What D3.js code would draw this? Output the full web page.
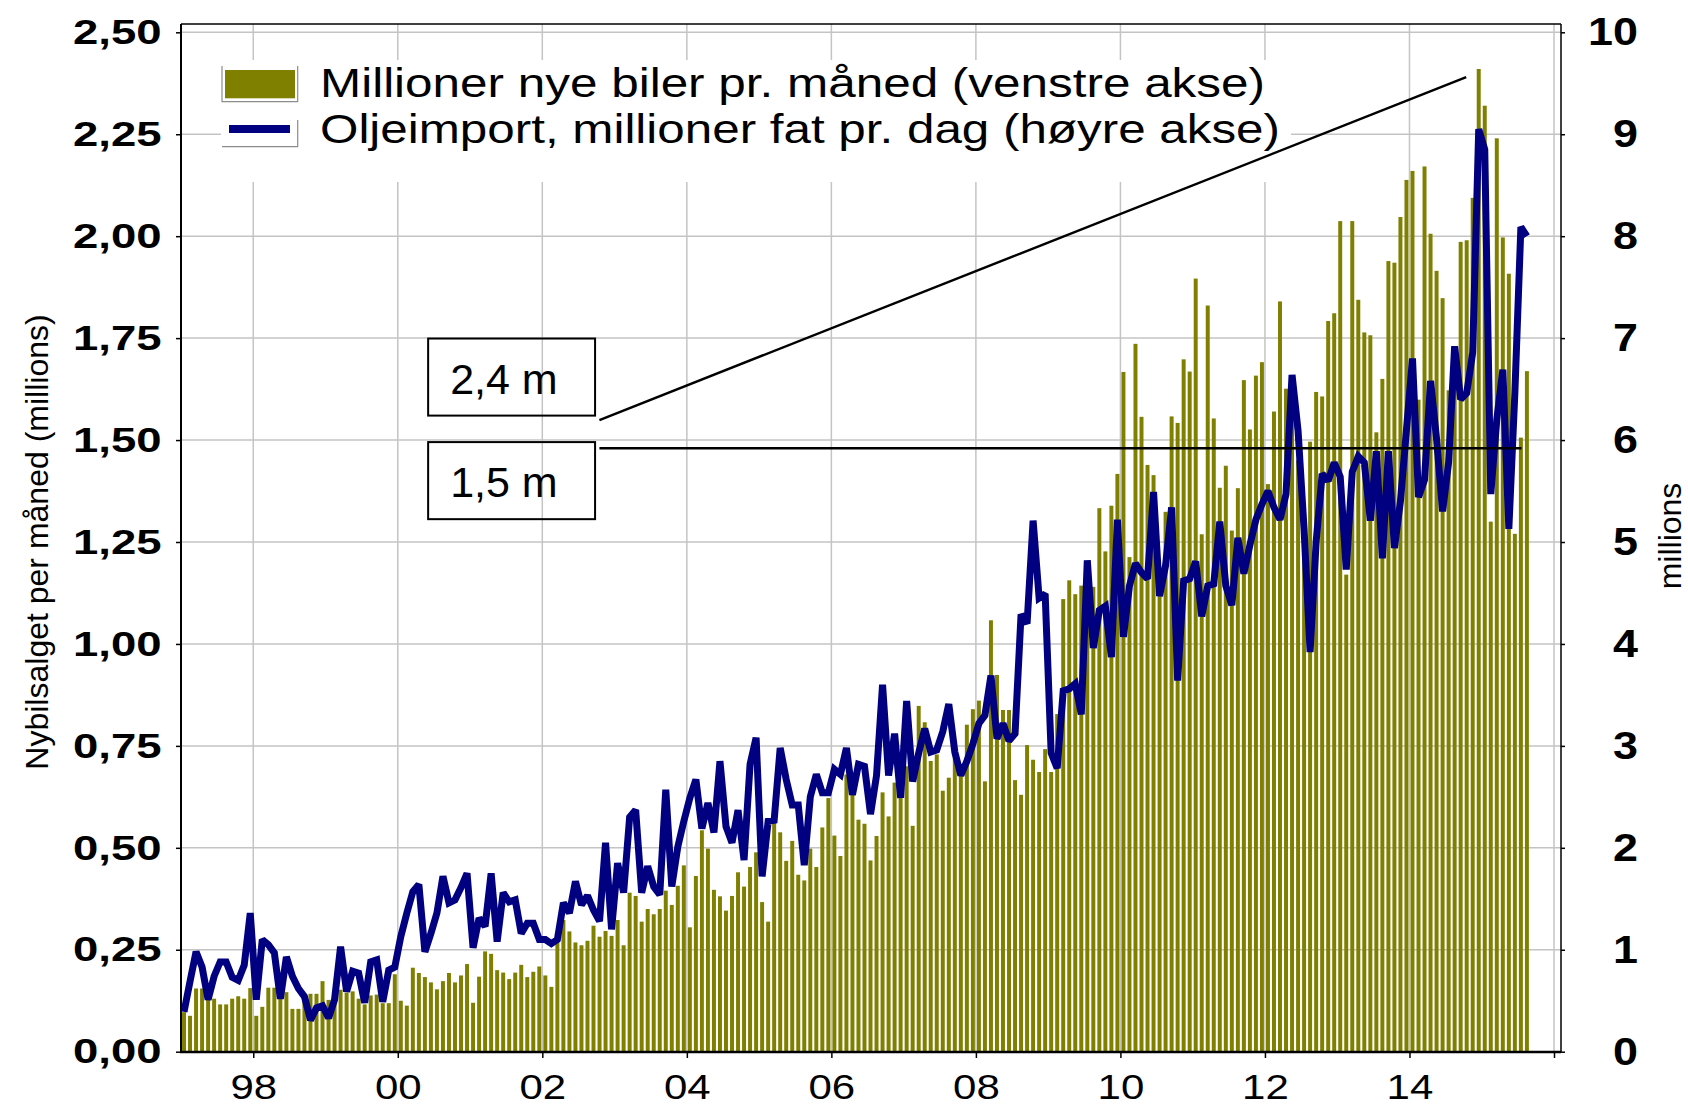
<!DOCTYPE html>
<html>
<head>
<meta charset="utf-8">
<script src="https://cdn.jsdelivr.net/npm/d3@7"></script>
<style>
  html, body { margin: 0; padding: 0; background: #fff; }
  svg { display: block; font-family: "Liberation Sans", Arial, sans-serif; }
</style>
</head>
<body>
<div id="chart"></div>
<script>
// first bar / point = January 1997, one value per month
const startYear = 1997;

// new cars sold per month, millions (left axis)
const carSales = [
  0.097, 0.088, 0.155, 0.155, 0.130, 0.130, 0.116, 0.116, 0.130, 0.136, 0.130, 0.156,
  0.088, 0.110, 0.157, 0.157, 0.146, 0.146, 0.105, 0.105, 0.140, 0.142, 0.142, 0.173,
  0.127, 0.130, 0.152, 0.145, 0.148, 0.130, 0.116, 0.138, 0.140, 0.119, 0.119, 0.190,
  0.125, 0.113, 0.206, 0.193, 0.183, 0.170, 0.153, 0.173, 0.193, 0.170, 0.187, 0.215,
  0.120, 0.184, 0.246, 0.240, 0.200, 0.194, 0.178, 0.194, 0.213, 0.183, 0.196, 0.209,
  0.187, 0.159, 0.290, 0.323, 0.295, 0.268, 0.261, 0.272, 0.309, 0.282, 0.296, 0.284,
  0.323, 0.261, 0.390, 0.382, 0.319, 0.350, 0.337, 0.350, 0.395, 0.360, 0.407, 0.457,
  0.305, 0.431, 0.543, 0.498, 0.397, 0.381, 0.346, 0.382, 0.440, 0.405, 0.453, 0.489,
  0.367, 0.319, 0.562, 0.538, 0.468, 0.517, 0.434, 0.420, 0.498, 0.453, 0.550, 0.622,
  0.530, 0.480, 0.680, 0.630, 0.569, 0.559, 0.469, 0.529, 0.636, 0.577, 0.660, 0.622,
  0.700, 0.554, 0.848, 0.808, 0.713, 0.729, 0.640, 0.672, 0.750, 0.704, 0.802, 0.840,
  0.861, 0.663, 1.058, 0.924, 0.838, 0.838, 0.666, 0.630, 0.752, 0.716, 0.686, 0.742,
  0.686, 0.828, 1.110, 1.156, 1.122, 1.143, 1.170, 1.140, 1.333, 1.227, 1.339, 1.417,
  1.667, 1.213, 1.736, 1.557, 1.439, 1.414, 1.170, 1.324, 1.558, 1.542, 1.698, 1.668,
  1.896, 1.269, 1.830, 1.553, 1.383, 1.437, 1.278, 1.382, 1.647, 1.526, 1.658, 1.691,
  1.392, 1.570, 1.840, 1.626, 1.550, 1.450, 1.300, 1.496, 1.618, 1.607, 1.792, 1.811,
  2.037, 1.170, 2.037, 1.844, 1.764, 1.757, 1.519, 1.650, 1.939, 1.935, 2.047, 2.138,
  2.160, 1.599, 2.171, 2.006, 1.915, 1.848, 1.622, 1.718, 1.986, 1.990, 2.094, 2.410,
  2.320, 1.300, 2.240, 1.997, 1.908, 1.270, 1.506, 1.669
];

// oil imports, million barrels per day (right axis)
const oilImports = [
  0.39, 0.69, 0.98, 0.83, 0.51, 0.74, 0.88, 0.88, 0.73, 0.70, 0.85, 1.36,
  0.51, 1.10, 1.05, 0.97, 0.52, 0.93, 0.74, 0.62, 0.54, 0.31, 0.43, 0.45,
  0.33, 0.51, 1.03, 0.59, 0.79, 0.77, 0.48, 0.88, 0.90, 0.49, 0.80, 0.83,
  1.13, 1.36, 1.57, 1.64, 0.98, 1.16, 1.36, 1.72, 1.46, 1.49, 1.61, 1.75,
  1.02, 1.31, 1.23, 1.75, 1.08, 1.56, 1.47, 1.49, 1.16, 1.26, 1.26, 1.10,
  1.10, 1.06, 1.10, 1.46, 1.36, 1.67, 1.44, 1.53, 1.39, 1.28, 2.05, 1.20,
  1.85, 1.56, 2.30, 2.37, 1.56, 1.82, 1.62, 1.54, 2.57, 1.62, 2.01, 2.26,
  2.49, 2.67, 2.19, 2.44, 2.15, 2.85, 2.21, 2.05, 2.37, 1.88, 2.82, 3.08,
  1.72, 2.26, 2.27, 2.98, 2.67, 2.42, 2.42, 1.83, 2.50, 2.72, 2.54, 2.54,
  2.77, 2.72, 2.98, 2.52, 2.82, 2.80, 2.33, 2.71, 3.60, 2.71, 3.12, 2.49,
  3.44, 2.65, 2.93, 3.17, 2.94, 2.96, 3.14, 3.41, 2.94, 2.71, 2.85, 3.02,
  3.22, 3.30, 3.69, 3.07, 3.22, 3.05, 3.12, 4.29, 4.20, 5.21, 4.45, 4.49,
  2.93, 2.78, 3.54, 3.56, 3.61, 3.31, 4.82, 3.96, 4.33, 4.37, 3.87, 5.22,
  4.07, 4.57, 4.79, 4.70, 4.64, 5.49, 4.47, 4.77, 5.34, 3.64, 4.62, 4.64,
  4.81, 4.27, 4.57, 4.59, 5.20, 4.57, 4.38, 5.04, 4.69, 4.97, 5.22, 5.37,
  5.50, 5.34, 5.22, 5.47, 6.64, 6.09, 5.12, 3.92, 5.00, 5.67, 5.60, 5.78,
  5.64, 4.73, 5.69, 5.84, 5.78, 5.21, 5.89, 4.84, 5.89, 4.94, 5.40, 6.10,
  6.80, 5.44, 5.61, 6.58, 6.01, 5.30, 5.78, 6.92, 6.40, 6.46, 6.86, 9.05,
  8.85, 5.47, 6.20, 6.69, 5.13, 6.46, 8.09, 8.00
];

const leftTicks = [0, 0.25, 0.5, 0.75, 1, 1.25, 1.5, 1.75, 2, 2.25, 2.5];
const rightTicks = [0, 1, 2, 3, 4, 5, 6, 7, 8, 9, 10];
const yearTicks = [1998, 2000, 2002, 2004, 2006, 2008, 2010, 2012, 2014, 2016];
const yearLabels = ['98', '00', '02', '04', '06', '08', '10', '12', '14', ''];

const legendLabels = [
  'Millioner nye biler pr. måned (venstre akse)',
  'Oljeimport, millioner fat pr. dag (høyre akse)'
];
const leftTitle = 'Nybilsalget per måned (millions)';
const rightTitle = 'millions';

// annotations: peak of 2,4 m and level of 1,5 m (left-axis units)
const annotationLabels = ['2,4 m', '1,5 m'];
const peakLevel = 2.39;
const flatLevel = 1.48;

const width = 1688;
const height = 1106;
const plot = { left: 181, right: 1561, top: 24, bottom: 1052 };

const svg = d3.select('#chart').append('svg')
  .attr('width', width)
  .attr('height', height)
  .attr('viewBox', `0 0 ${width} ${height}`);

svg.append('rect').attr('width', width).attr('height', height).attr('fill', '#fff');

const x = d3.scaleLinear().domain([startYear, 2016]).range([plot.left, 1554]);
const yLeft = d3.scaleLinear().domain([0, 2.5]).range([1051.7, 32.3]);
const yRight = d3.scaleLinear().domain([0, 10]).range([1051.7, 32.3]);

const monthDate = (i) => startYear + (i + 0.5) / 12;
const pitch = x(startYear + 1 / 12) - x(startYear);
const barWidth = pitch * 0.66;

// stretch glyphs horizontally, the source uses a wider face than Arial
function stretch(selection, k) {
  selection.each(function () {
    const w = this.getComputedTextLength();
    d3.select(this).attr('textLength', w * k).attr('lengthAdjust', 'spacingAndGlyphs');
  });
}

// grid
const grid = svg.append('g').attr('stroke', '#c4c4c4').attr('stroke-width', 1.5);
grid.selectAll('.h').data(leftTicks.slice(1)).join('line')
  .attr('x1', plot.left).attr('x2', plot.right)
  .attr('y1', (d) => yLeft(d)).attr('y2', (d) => yLeft(d));
grid.selectAll('.v').data(yearTicks).join('line')
  .attr('x1', (d) => x(d)).attr('x2', (d) => x(d))
  .attr('y1', plot.top).attr('y2', plot.bottom);

// bars
svg.append('g').attr('fill', '#808000')
  .selectAll('rect').data(carSales).join('rect')
  .attr('x', (d, i) => x(monthDate(i)) - barWidth / 2)
  .attr('width', barWidth)
  .attr('y', (d) => yLeft(d))
  .attr('height', (d) => yLeft(0) - yLeft(d));

// oil line
const line = d3.line()
  .x((d, i) => x(monthDate(i)))
  .y((d) => yRight(d));

svg.append('path')
  .datum(oilImports)
  .attr('fill', 'none')
  .attr('stroke', '#000080')
  .attr('stroke-width', 7)
  .attr('stroke-linejoin', 'miter')
  .attr('stroke-miterlimit', 2)
  .attr('d', line);

// frame
const frame = svg.append('g').attr('stroke', '#000');
frame.append('line').attr('x1', plot.left).attr('x2', plot.right).attr('y1', plot.top).attr('y2', plot.top).attr('stroke-width', 1.5);
frame.append('line').attr('x1', plot.right).attr('x2', plot.right).attr('y1', plot.top).attr('y2', plot.bottom).attr('stroke-width', 1.5);
frame.append('line').attr('x1', plot.left).attr('x2', plot.left).attr('y1', plot.top).attr('y2', plot.bottom + 1).attr('stroke-width', 2);
frame.append('line').attr('x1', plot.left - 1).attr('x2', plot.right).attr('y1', plot.bottom).attr('y2', plot.bottom).attr('stroke-width', 2.5);

// axes
const axisLeft = svg.append('g')
  .attr('transform', `translate(${plot.left},0)`)
  .call(d3.axisLeft(yLeft).tickValues(leftTicks).tickSize(5).tickPadding(14.5)
    .tickFormat((d) => d.toFixed(2).replace('.', ',')));
axisLeft.select('.domain').remove();
axisLeft.selectAll('line').attr('stroke', '#000').attr('stroke-width', 1.5);
axisLeft.selectAll('text')
  .attr('font-family', '"Liberation Sans", Arial, sans-serif')
  .attr('font-size', 35).attr('font-weight', 'bold').attr('fill', '#000')
  .call(stretch, 1.3);

const axisRight = svg.append('g')
  .attr('transform', `translate(${plot.right},0)`)
  .call(d3.axisRight(yRight).tickValues(rightTicks).tickSize(4).tickPadding(0)
    .tickFormat((d) => String(d)));
axisRight.select('.domain').remove();
axisRight.selectAll('line').attr('stroke', '#000').attr('stroke-width', 1.5);
axisRight.selectAll('text')
  .attr('x', 77).attr('text-anchor', 'end')
  .attr('font-family', '"Liberation Sans", Arial, sans-serif')
  .attr('font-size', 39).attr('font-weight', 'bold').attr('fill', '#000')
  .call(stretch, 1.15);

const axisBottom = svg.append('g')
  .attr('transform', `translate(0,${plot.bottom})`)
  .call(d3.axisBottom(x).tickValues(yearTicks).tickSize(6).tickPadding(16)
    .tickFormat((d, i) => yearLabels[i]));
axisBottom.select('.domain').remove();
axisBottom.selectAll('line').attr('stroke', '#000').attr('stroke-width', 1.5);
axisBottom.selectAll('text')
  .attr('font-family', '"Liberation Sans", Arial, sans-serif')
  .attr('font-size', 35).attr('fill', '#000')
  .call(stretch, 1.2);

// axis titles
svg.append('text')
  .attr('transform', 'translate(48,542) rotate(-90)')
  .attr('text-anchor', 'middle')
  .attr('font-size', 32)
  .text(leftTitle);

svg.append('text')
  .attr('transform', 'translate(1681,536) rotate(-90)')
  .attr('text-anchor', 'middle')
  .attr('font-size', 32)
  .text(rightTitle);

// legend
const legend = svg.append('g');
legend.append('rect').attr('x', 221).attr('y', 60).attr('width', 1070).attr('height', 122).attr('fill', '#fff');

const swatchGray = '#8c8c8c';
legend.append('rect').attr('x', 225).attr('y', 70).attr('width', 70).attr('height', 28.3).attr('fill', '#808000');
legend.append('path').attr('d', 'M222,66V101.7H297.7V66').attr('fill', 'none').attr('stroke', swatchGray).attr('stroke-width', 1.2);
legend.append('path').attr('d', 'M297.7,120V146.7H222').attr('fill', 'none').attr('stroke', swatchGray).attr('stroke-width', 1.2);
legend.append('line').attr('x1', 229).attr('x2', 290).attr('y1', 129).attr('y2', 129)
  .attr('stroke', '#000080').attr('stroke-width', 8);

const legendWidths = [945, 960];
legend.selectAll('text.item').data(legendLabels).join('text')
  .attr('class', 'item')
  .attr('x', 320)
  .attr('y', (d, i) => 97.3 + i * 46)
  .attr('font-size', 40.5)
  .attr('fill', '#000')
  .attr('textLength', (d, i) => legendWidths[i])
  .attr('lengthAdjust', 'spacingAndGlyphs')
  .text((d) => d);

// annotations (drawn last, the pointer line crosses the legend)
const boxLeft = x(2000.42);
const boxRight = x(2002.73);
const anchorX = x(2002.79);
const boxes = [
  { top: 1.749, bottom: 1.560 },
  { top: 1.495, bottom: 1.306 }
];

const ann = svg.append('g');
ann.selectAll('rect').data(boxes).join('rect')
  .attr('x', boxLeft)
  .attr('width', boxRight - boxLeft)
  .attr('y', (d) => yLeft(d.top))
  .attr('height', (d) => yLeft(d.bottom) - yLeft(d.top))
  .attr('fill', 'none')
  .attr('stroke', '#000')
  .attr('stroke-width', 2);

ann.selectAll('text').data(annotationLabels).join('text')
  .attr('x', boxLeft + 22)
  .attr('y', (d, i) => yLeft(boxes[i].bottom) - 22)
  .attr('font-size', 43)
  .attr('fill', '#000')
  .text((d) => d);

ann.append('line')
  .attr('x1', anchorX).attr('y1', yLeft(1.549))
  .attr('x2', x(2014.785)).attr('y2', yLeft(peakLevel))
  .attr('stroke', '#000').attr('stroke-width', 2.5);

ann.append('line')
  .attr('x1', anchorX).attr('y1', yLeft(flatLevel))
  .attr('x2', x(2015.55)).attr('y2', yLeft(flatLevel))
  .attr('stroke', '#000').attr('stroke-width', 2.5);
</script>
</body>
</html>
